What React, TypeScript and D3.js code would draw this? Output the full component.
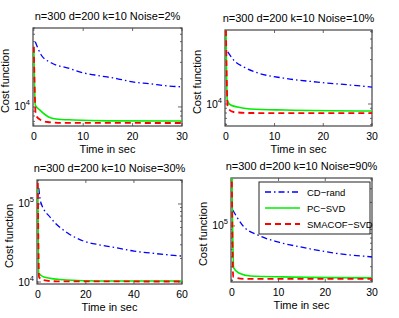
import React from "react";
import * as d3 from "d3";

// ---- data (time in sec, cost value) ----
const titles = [
  "n=300 d=200 k=10 Noise=2%",
  "n=300 d=200 k=10 Noise=10%",
  "n=300 d=200 k=10 Noise=30%",
  "n=300 d=200 k=10 Noise=90%",
];
const seriesNames = ["CD−rand", "PC−SVD", "SMACOF−SVD"];
const xMaxes = [30, 30, 60, 30];
const xTickVals = [
  [0, 10, 20, 30],
  [0, 10, 20, 30],
  [0, 20, 40, 60],
  [0, 10, 20, 30],
];
const yDomains: [number, number][] = [
  [6250, 70000],
  [5800, 62500],
  [9430, 203000],
  [19100, 412000],
];

// Noise 2%
const cd1T = [0.3, 1.5, 3.5, 7, 10, 13.5, 17, 20, 23.5, 27, 30];
const cd1V = [50000, 36000, 29700, 26000, 23200, 21500, 20000, 18500, 17700, 16800, 16400];
const pc1T = [0, 0.3, 1.2, 3, 4.5, 8, 15, 30];
const pc1V = [44200, 10500, 9300, 7800, 7430, 7250, 7100, 7070];
const sm1T = [0, 0.4, 1.4, 2.8, 6, 30];
const sm1V = [44200, 8200, 7250, 6900, 6750, 6730];

// Noise 10%
const cd2T = [0.4, 1.6, 3.7, 6.7, 11.8, 18.8, 25.5, 30];
const cd2V = [36300, 29700, 25000, 21500, 19000, 17200, 16000, 15200];
const pc2T = [0, 0.3, 1, 2.4, 5, 12, 30];
const pc2V = [80000, 11000, 9760, 9280, 8840, 8620, 8410];
const sm2T = [0, 0.4, 1.6, 5, 30];
const sm2V = [80000, 9060, 8200, 8000, 7980];

// Noise 30%
const cd3T = [0.4, 1.2, 5.4, 12.4, 19, 26, 33, 40, 47, 60];
const cd3V = [160000, 106000, 66200, 42500, 33500, 29800, 27300, 24900, 23500, 21500];
const pc3T = [0, 0.4, 2.5, 12, 26, 60];
const pc3V = [165000, 13000, 11600, 10600, 10300, 10300];
const sm3T = [0, 0.5, 2, 8, 60];
const sm3V = [250000, 11600, 10600, 10200, 10150];

// Noise 90%
const cd4T = [0.2, 1.2, 2.6, 5.5, 9.8, 14.7, 21.7, 30];
const cd4V = [160000, 127000, 97100, 76700, 62400, 53800, 45100, 40100];
const pc4T = [0, 0.4, 1.5, 4, 11, 30];
const pc4V = [500000, 29000, 24900, 22800, 22200, 21600];
const sm4T = [0, 0.3, 2.6, 30];
const sm4V = [500000, 22200, 20900, 20900];

const panelData = [
  [[cd1T, cd1V], [pc1T, pc1V], [sm1T, sm1V]],
  [[cd2T, cd2V], [pc2T, pc2V], [sm2T, sm2V]],
  [[cd3T, cd3V], [pc3T, pc3V], [sm3T, sm3V]],
  [[cd4T, cd4V], [pc4T, pc4V], [sm4T, sm4V]],
];

// layout
const boxes = [
  { l: 33, r: 182, t: 28, b: 126 },
  { l: 225, r: 372, t: 30, b: 126 },
  { l: 37, r: 182, t: 180, b: 284 },
  { l: 231, r: 372, t: 178, b: 282 },
];
const styles = [
  { stroke: "#0000ff", width: 1.3, dash: "6,3,1.5,3" },
  { stroke: "#00ee00", width: 1.6, dash: "" },
  { stroke: "#ff0000", width: 1.8, dash: "6,4" },
];
const FONT = "'Liberation Sans', Arial, Helvetica, sans-serif";

function Panel({ idx }: { idx: number }) {
  const bx = boxes[idx];
  const x = d3.scaleLinear().domain([0, xMaxes[idx]]).range([bx.l + 0.8, bx.r]);
  const y = d3.scaleLog().domain(yDomains[idx]).range([bx.b, bx.t]);
  const [lo, hi] = yDomains[idx];
  const minor: number[] = [];
  const major: number[] = [];
  for (let n = Math.floor(Math.log10(lo)); n <= Math.ceil(Math.log10(hi)); n++) {
    for (let k = 1; k <= 9; k++) {
      const v = k * Math.pow(10, n);
      if (v >= lo && v <= hi) (k === 1 ? major : minor).push(v);
    }
  }
  const clipId = `clip${idx}`;
  const line = d3
    .line<[number, number]>()
    .x((d) => x(d[0]))
    .y((d) => y(d[1]))
    .curve(d3.curveMonotoneX);
  const cx = (bx.l + bx.r) / 2;
  const cy = (bx.t + bx.b) / 2 + 4;
  const axisColor = "#444";
  return (
    <g fontFamily={FONT}>
      <defs>
        <clipPath id={clipId}>
          <rect x={bx.l - 1} y={bx.t} width={bx.r - bx.l + 1} height={bx.b - bx.t} />
        </clipPath>
      </defs>
      <text x={cx} y={bx.t - 8} textAnchor="middle" fontSize={11}>
        {titles[idx]}
      </text>
      <rect
        x={bx.l}
        y={bx.t}
        width={bx.r - bx.l}
        height={bx.b - bx.t}
        fill="none"
        stroke={axisColor}
        strokeWidth={1.2}
      />
      {/* ticks */}
      {xTickVals[idx].map((v) => (
        <g key={"x" + v} stroke={axisColor} strokeWidth={0.8}>
          <line x1={x(v)} x2={x(v)} y1={bx.b} y2={bx.b - 3} />
          <line x1={x(v)} x2={x(v)} y1={bx.t} y2={bx.t + 3} />
        </g>
      ))}
      {major.concat(minor).map((v) => {
        const len = major.includes(v) ? 4 : 2;
        return (
          <g key={"y" + v} stroke={axisColor} strokeWidth={0.8}>
            <line x1={bx.l} x2={bx.l + len} y1={y(v)} y2={y(v)} />
            <line x1={bx.r} x2={bx.r - len} y1={y(v)} y2={y(v)} />
          </g>
        );
      })}
      <g clipPath={`url(#${clipId})`}>
        {panelData[idx].map(([ts, vs], si) => {
          const pts = ts.map((t, i) => [t, vs[i]] as [number, number]);
          const s = styles[si];
          return (
            <path
              key={si}
              d={line(pts) || ""}
              fill="none"
              stroke={s.stroke}
              strokeWidth={s.width}
              strokeDasharray={s.dash || undefined}
            />
          );
        })}
      </g>
      {xTickVals[idx].map((v) => (
        <text key={"xl" + v} x={x(v)} y={bx.b + 14} textAnchor="middle" fontSize={10.5}>
          {v}
        </text>
      ))}
      {major.map((v) => (
        <text key={"yl" + v} x={bx.l - 3} y={y(v) + 3.5} textAnchor="end" fontSize={10.5}>
          10
          <tspan dy={-5} fontSize={7.5}>
            {Math.round(Math.log10(v))}
          </tspan>
        </text>
      ))}
      <text x={cx} y={bx.b + 26.5} textAnchor="middle" fontSize={11}>
        Time in sec
      </text>
      <text
        transform={`translate(${bx.l - 24.5},${cy}) rotate(-90)`}
        textAnchor="middle"
        fontSize={11}
      >
        Cost function
      </text>
    </g>
  );
}

function Legend() {
  const lx = 259;
  const ly = 182;
  const w = 111;
  const h = 52;
  const rows = [192, 208, 224];
  return (
    <g fontFamily={FONT}>
      <rect x={lx} y={ly} width={w} height={h} fill="#fff" stroke="#222" strokeWidth={1} />
      {seriesNames.map((name, i) => (
        <g key={name}>
          <line
            x1={265}
            x2={300}
            y1={rows[i]}
            y2={rows[i]}
            stroke={styles[i].stroke}
            strokeWidth={styles[i].width}
            strokeDasharray={styles[i].dash || undefined}
          />
          <text x={307} y={rows[i] + 3.5} fontSize={9.5}>
            {name}
          </text>
        </g>
      ))}
    </g>
  );
}

export default function App() {
  return (
    <svg
      width={399}
      height={318}
      style={{ position: "absolute", left: 0, top: 0, background: "#fff" }}
    >
      {[0, 1, 2, 3].map((i) => (
        <Panel key={i} idx={i} />
      ))}
      <Legend />
    </svg>
  );
}
